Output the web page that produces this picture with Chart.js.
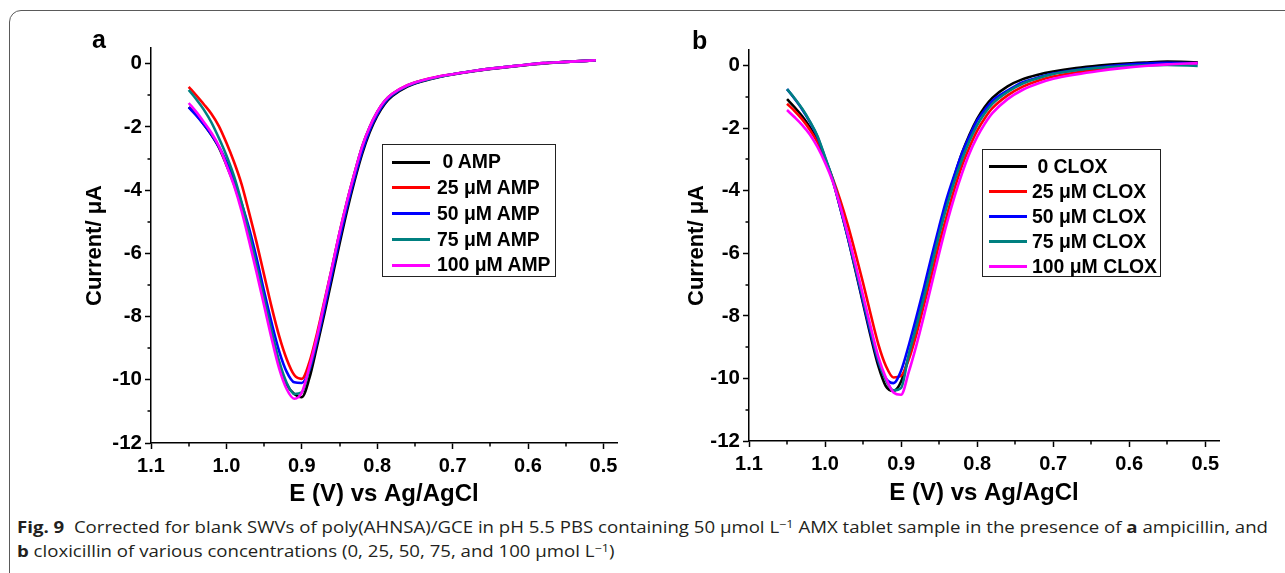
<!DOCTYPE html>
<html><head><meta charset="utf-8">
<script src="https://cdn.jsdelivr.net/npm/chart.js@4.4.1/dist/chart.umd.min.js"></script>
<style>
html,body{margin:0;padding:0;background:#fff;width:1285px;height:573px;overflow:hidden;position:relative;}
#frame{position:absolute;left:9px;top:10px;width:1310px;height:640px;border:1px solid #5a5a5a;border-radius:12px;box-sizing:border-box;}
canvas{position:absolute;top:0;}
#ca{left:0;}
#cb{left:640px;}
.panel{position:absolute;font:bold 25px "Liberation Sans",Arial,sans-serif;line-height:25px;color:#000;}
.legend{position:absolute;border:1.3px solid #222;background:#fff;font:bold 19.4px "Liberation Sans",Arial,sans-serif;color:#000;box-sizing:border-box;}
.caption{position:absolute;left:17px;font-family:"Open Sans","Noto Sans",sans-serif;font-size:16px;line-height:24px;color:#231f20;white-space:nowrap;transform-origin:0 0;}
.caption b{font-weight:700;}
.sup{font-size:0.68em;position:relative;top:-0.5em;}
</style>
</head>
<body>
<div id="frame"></div>
<canvas id="ca" width="640" height="515"></canvas>
<canvas id="cb" width="645" height="515"></canvas>
<div class="panel" style="left:92px;top:27px;">a</div>
<div class="panel" style="left:692px;top:28px;">b</div>
<div class="legend" id="lega"></div>
<div class="legend" id="legb"></div>
<div class="caption" id="cap1" style="top:515px;"><b>Fig. 9</b>&nbsp; Corrected for blank SWVs of poly(AHNSA)/GCE in pH 5.5 PBS containing 50 μmol L<span class="sup">−1</span> AMX tablet sample in the presence of <b>a</b> ampicillin, and</div>
<div class="caption" id="cap2" style="top:539px;"><b>b</b> cloxicillin of various concentrations (0, 25, 50, 75, and 100 μmol L<span class="sup">−1</span>)</div>
<script>
// ---- data ----
const X = [1.05,1.04,1.03,1.02,1.01,1.00,0.99,0.98,0.97,0.96,0.95,0.94,0.93,0.92,0.91,0.90,0.89,0.88,0.87,0.86,0.85,0.84,0.83,0.82,0.81,0.80,0.79,0.78,0.76,0.74,0.72,0.70,0.67,0.64,0.61,0.58,0.55,0.51];

const A_LABELS = [' 0 AMP','25 μM AMP','50 μM AMP','75 μM AMP','100 μM AMP'];
const A_0   = [-1.37,-1.62,-1.92,-2.25,-2.65,-3.2,-3.8,-4.55,-5.45,-6.45,-7.5,-8.55,-9.5,-10.15,-10.45,-10.55,-9.95,-8.95,-7.9,-6.8,-5.7,-4.65,-3.7,-2.85,-2.17,-1.65,-1.27,-1.02,-0.72,-0.55,-0.43,-0.34,-0.23,-0.14,-0.06,0.01,0.06,0.11];
const A_25  = [-0.73,-1.0,-1.28,-1.58,-1.97,-2.5,-3.1,-3.8,-4.7,-5.65,-6.68,-7.7,-8.62,-9.35,-9.85,-9.97,-9.45,-8.55,-7.5,-6.45,-5.35,-4.35,-3.45,-2.62,-2.0,-1.52,-1.17,-0.95,-0.68,-0.52,-0.41,-0.33,-0.22,-0.13,-0.05,0.02,0.06,0.11];
const A_50  = [-1.38,-1.63,-1.92,-2.24,-2.62,-3.1,-3.68,-4.4,-5.2,-6.15,-7.2,-8.2,-9.1,-9.75,-10.08,-10.1,-9.7,-8.8,-7.75,-6.65,-5.55,-4.52,-3.6,-2.77,-2.1,-1.6,-1.23,-0.99,-0.7,-0.54,-0.42,-0.33,-0.22,-0.13,-0.05,0.02,0.06,0.11];
const A_75  = [-0.83,-1.12,-1.45,-1.85,-2.35,-2.9,-3.55,-4.38,-5.35,-6.38,-7.42,-8.47,-9.42,-10.1,-10.45,-10.4,-9.65,-8.7,-7.58,-6.47,-5.37,-4.37,-3.46,-2.63,-2.01,-1.53,-1.18,-0.96,-0.69,-0.53,-0.42,-0.33,-0.22,-0.13,-0.05,0.02,0.06,0.11];
const A_100 = [-1.24,-1.52,-1.84,-2.18,-2.6,-3.2,-3.85,-4.65,-5.6,-6.6,-7.65,-8.7,-9.65,-10.3,-10.6,-10.4,-9.6,-8.65,-7.55,-6.45,-5.35,-4.35,-3.45,-2.62,-2.0,-1.52,-1.17,-0.95,-0.68,-0.52,-0.41,-0.33,-0.22,-0.13,-0.05,0.02,0.06,0.11];

const B_LABELS = [' 0 CLOX','25 μM CLOX','50 μM CLOX','75 μM CLOX','100 μM CLOX'];
const B_0   = [-1.07,-1.33,-1.62,-1.97,-2.4,-2.98,-3.65,-4.55,-5.5,-6.55,-7.6,-8.65,-9.6,-10.25,-10.4,-10.1,-9.3,-8.35,-7.35,-6.35,-5.35,-4.4,-3.55,-2.8,-2.2,-1.7,-1.32,-1.03,-0.66,-0.43,-0.29,-0.19,-0.08,0.0,0.06,0.1,0.13,0.11];
const B_25  = [-1.22,-1.45,-1.72,-2.05,-2.45,-3.0,-3.6,-4.3,-5.1,-6.0,-6.95,-7.95,-8.9,-9.6,-9.97,-9.92,-9.4,-8.6,-7.65,-6.7,-5.7,-4.8,-3.95,-3.2,-2.6,-2.08,-1.68,-1.36,-0.95,-0.67,-0.48,-0.35,-0.22,-0.12,-0.04,0.02,0.06,0.08];
const B_50  = [-0.75,-1.06,-1.4,-1.8,-2.28,-2.95,-3.65,-4.55,-5.5,-6.5,-7.55,-8.55,-9.45,-10.0,-10.15,-9.75,-8.95,-8.05,-7.1,-6.1,-5.15,-4.25,-3.5,-2.8,-2.25,-1.75,-1.42,-1.13,-0.8,-0.53,-0.38,-0.25,-0.14,-0.05,0.02,0.07,0.09,0.08];
const B_75  = [-0.75,-1.05,-1.38,-1.78,-2.25,-2.92,-3.62,-4.5,-5.45,-6.45,-7.45,-8.45,-9.4,-10.05,-10.38,-10.3,-9.25,-8.35,-7.4,-6.4,-5.4,-4.5,-3.7,-3.0,-2.4,-1.9,-1.52,-1.22,-0.84,-0.57,-0.4,-0.27,-0.15,-0.07,-0.02,0.01,0.02,-0.01];
const B_100 = [-1.42,-1.65,-1.9,-2.2,-2.6,-3.1,-3.7,-4.5,-5.4,-6.35,-7.35,-8.35,-9.3,-9.98,-10.45,-10.52,-9.8,-8.95,-8.0,-7.0,-6.0,-5.05,-4.2,-3.45,-2.8,-2.28,-1.86,-1.52,-1.07,-0.77,-0.57,-0.42,-0.28,-0.17,-0.08,-0.01,0.04,0.08];

const COLORS = ['#000000','#ff0000','#0000ff','#008080','#ff00ff'];
const X_TICKS = [1.1,1.0,0.9,0.8,0.7,0.6,0.5];
const X_MINOR = [1.05,0.95,0.85,0.75,0.65,0.55];
const Y_TICKS = [0,-2,-4,-6,-8,-10,-12];
const Y_MINOR = [-1,-3,-5,-7,-9,-11];
const X_MIN = 0.482, X_MAX = 1.1, Y_MIN = -12, Y_MAX = 0.5;
const X_TITLE = 'E (V) vs Ag/AgCl';
const Y_TITLE = 'Current/ μA';

const FONT = '"Liberation Sans", Arial, sans-serif';

const minorTicks = {
  id: 'minorTicks',
  afterDraw(chart) {
    const {ctx, scales: {x, y}} = chart;
    ctx.save();
    ctx.strokeStyle = '#000';
    ctx.lineWidth = 1.5;
    ctx.beginPath();
    X_MINOR.forEach(v => { const px = Math.round(x.getPixelForValue(v)); ctx.moveTo(px, x.top); ctx.lineTo(px, x.top + 3.5); });
    Y_MINOR.forEach(v => { const py = Math.round(y.getPixelForValue(v)); ctx.moveTo(y.right, py); ctx.lineTo(y.right - 3.5, py); });
    ctx.stroke();
    ctx.restore();
  }
};

function makeChart(id, series, labels, g) {
  return new Chart(document.getElementById(id), {
    type: 'line',
    data: {
      datasets: series.map((s, i) => ({
        label: labels[i],
        data: X.map((xv, j) => ({x: xv, y: s[j]})),
        borderColor: COLORS[i],
        backgroundColor: COLORS[i],
        borderWidth: 2.6,
        pointRadius: 0,
        fill: false,
        cubicInterpolationMode: 'monotone',
        order: series.length - 1 - i
      }))
    },
    options: {
      responsive: false,
      animation: false,
      events: [],
      layout: {autoPadding: false, padding: {left: 0, top: g.top, right: g.right, bottom: 0}},
      plugins: {legend: {display: false}, tooltip: {enabled: false}},
      scales: {
        x: {
          type: 'linear', reverse: true, min: X_MIN, max: X_MAX,
          afterBuildTicks: s => { s.ticks = X_TICKS.map(v => ({value: v})); },
          afterFit: s => { s.height = g.xh; },
          ticks: {callback: v => Number(v).toFixed(1), autoSkip: false, maxRotation: 0, minRotation: 0, color: '#000', padding: 5,
                  font: {family: FONT, size: 20, weight: 'bold'}},
          grid: {display: true, drawOnChartArea: false, drawTicks: true, tickLength: 6, tickColor: '#000', tickWidth: 1.5},
          border: {display: true, color: '#000', width: 1.5},
          title: {display: true, text: X_TITLE, color: '#000', font: {family: FONT, size: 24, weight: 'bold'}, padding: {top: 0, bottom: g.xtp}}
        },
        y: {
          type: 'linear', min: Y_MIN, max: Y_MAX,
          afterBuildTicks: s => { s.ticks = Y_TICKS.map(v => ({value: v})); },
          afterFit: s => { s.width = g.yw; },
          ticks: {callback: v => String(v), color: '#000', padding: 3, font: {family: FONT, size: 20.5, weight: 'bold'}},
          grid: {display: true, drawOnChartArea: false, drawTicks: true, tickLength: 6, tickColor: '#000', tickWidth: 1.5},
          border: {display: true, color: '#000', width: 1.5},
          title: {display: true, text: Y_TITLE, color: '#000', font: {family: FONT, size: 22, weight: 'bold'}, padding: {top: g.ytp, bottom: 0}}
        }
      }
    },
    plugins: [minorTicks]
  });
}

const chartA = makeChart('ca', [A_0, A_25, A_50, A_75, A_100], A_LABELS, {top: 48, right: 23, xh: 72, yw: 151, xtp: 6, ytp: 82});
const chartB = makeChart('cb', [B_0, B_25, B_50, B_75, B_100], B_LABELS, {top: 50, right: 66, xh: 74, yw: 109, xtp: 7, ytp: 44});

function buildLegend(elId, chart, g) {
  const el = document.getElementById(elId);
  el.style.left = g.left + 'px'; el.style.top = g.top + 'px';
  el.style.width = g.w + 'px'; el.style.height = g.h + 'px';
  chart.data.datasets.forEach((ds, i) => {
    const cy = g.first + i * g.pitch;
    const sw = document.createElement('div');
    sw.style.cssText = `position:absolute;left:${g.lx}px;width:${g.lw}px;top:${cy - 1.5}px;height:3px;background:${ds.borderColor};`;
    const tx = document.createElement('div');
    tx.textContent = ds.label;
    tx.style.cssText = `position:absolute;left:${g.tx}px;top:${cy - g.pitch / 2}px;line-height:${g.pitch}px;white-space:pre;`;
    el.appendChild(sw); el.appendChild(tx);
  });
}
buildLegend('lega', chartA, {left: 382, top: 144, w: 174, h: 133, first: 17, pitch: 25.8, lx: 9, lw: 38, tx: 54});
buildLegend('legb', chartB, {left: 982, top: 149, w: 179, h: 128, first: 16, pitch: 25, lx: 6, lw: 38, tx: 49});

// fit caption width to the figure's caption block
const c1 = document.getElementById('cap1'), c2 = document.getElementById('cap2');
const w1 = c1.getBoundingClientRect().width;
const sc = 1251 / w1;
c1.style.transform = `scaleX(${sc})`;
c2.style.transform = `scaleX(${sc})`;
</script>
</body></html>
